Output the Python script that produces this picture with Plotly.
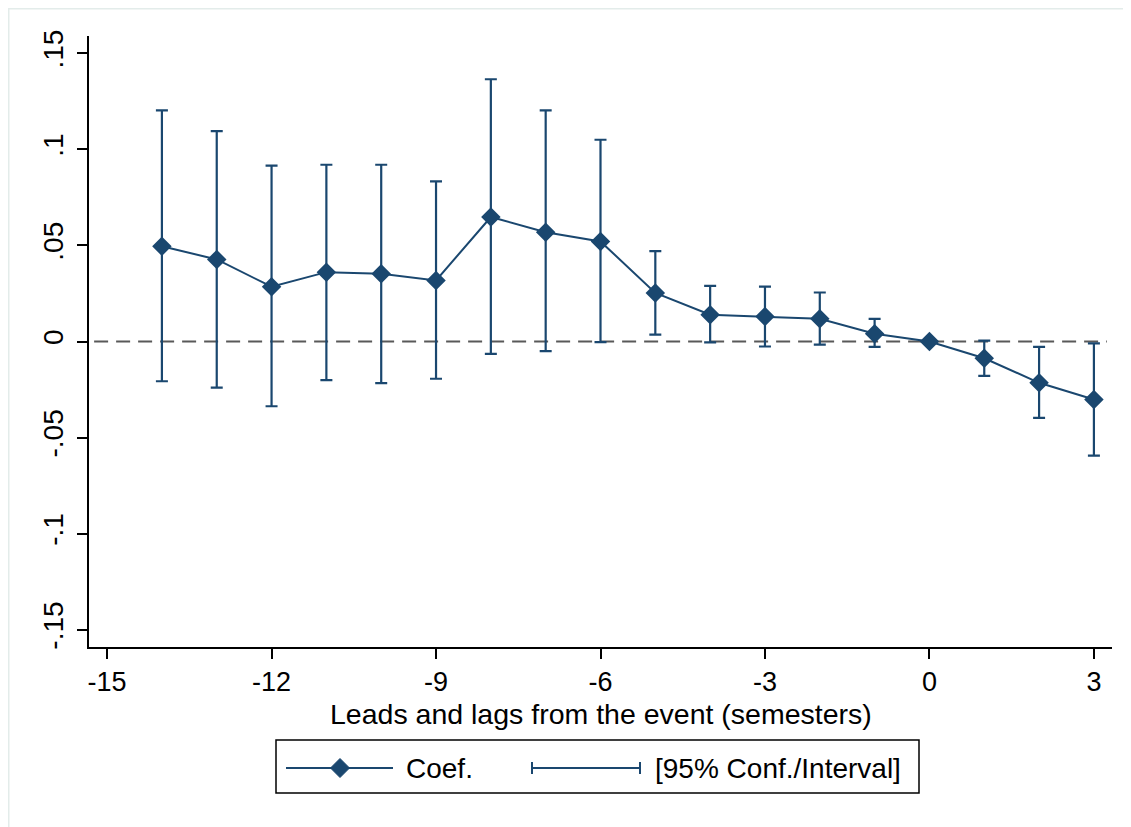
import plotly.graph_objects as go

# ---- data ----
periods = [-14, -13, -12, -11, -10, -9, -8, -7, -6, -5, -4, -3, -2, -1, 0, 1, 2, 3]
coef = [0.0496, 0.0427, 0.0285, 0.0361, 0.0352, 0.0318, 0.0648, 0.0569, 0.0521,
        0.0253, 0.0139, 0.0130, 0.0118, 0.0040, 0.0, -0.0087, -0.0215, -0.0302]
ci_upper = [0.1203, 0.1095, 0.0915, 0.0920, 0.0920, 0.0833, 0.1365, 0.1203, 0.1050,
            0.0470, 0.0290, 0.0286, 0.0255, 0.0118, None, 0.0005, -0.0028, -0.0010]
ci_lower = [-0.0207, -0.0240, -0.0337, -0.0201, -0.0217, -0.0194, -0.0064, -0.0050, -0.0003,
            0.0036, -0.0005, -0.0026, -0.0016, -0.0028, None, -0.0179, -0.0397, -0.0594]

x_tickvals = [-15, -12, -9, -6, -3, 0, 3]
x_ticktext = ["-15", "-12", "-9", "-6", "-3", "0", "3"]
y_tickvals = [0.15, 0.1, 0.05, 0, -0.05, -0.1, -0.15]
y_ticktext = [".15", ".1", ".05", "0", "-.05", "-.1", "-.15"]

x_title = "Leads and lags from the event (semesters)"
legend_labels = ["Coef.", "[95% Conf./Interval]"]

NAVY = "#1a476f"
FONT = "Liberation Sans, Arial, sans-serif"

err_plus = [None if u is None else u - c for u, c in zip(ci_upper, coef)]
err_minus = [None if l is None else c - l for l, c in zip(ci_lower, coef)]

# page body has an 8px margin -> figure is 8px smaller; screen coords used below
OFF = 8
W, H = 1131 - OFF, 827 - OFF
PL, PR, PT, PB = 89, 1112, 36, 647          # plot area in screen pixels
PW, PH = PR - PL, PB - PT
L, T = PL - OFF, PT - OFF
R, B = W - (PR - OFF), H - (PB - OFF)


def px(xp):
    return (xp - PL) / PW


def py(yp):
    return (PB - yp) / PH


fig = go.Figure()
fig.add_trace(go.Scatter(
    x=periods, y=coef, mode="lines+markers",
    line=dict(color=NAVY, width=2),
    marker=dict(symbol="diamond", size=15, color=NAVY),
    error_y=dict(type="data", symmetric=False, array=err_plus, arrayminus=err_minus,
                 color=NAVY, thickness=2.2, width=6),
    showlegend=False,
))

shapes = []
# zero reference line
shapes.append(dict(type="line", xref="paper", yref="y", x0=0.005, x1=0.995, y0=0, y1=0,
                   line=dict(color="#595959", width=2, dash="14px,8px"), layer="below"))

# custom legend
ly = 768
shapes.append(dict(type="rect", xref="paper", yref="paper",
                   x0=px(276), x1=px(919), y0=py(740), y1=py(793),
                   line=dict(color="black", width=1.5)))
shapes.append(dict(type="line", xref="paper", yref="paper",
                   x0=px(286), x1=px(393), y0=py(ly), y1=py(ly),
                   line=dict(color=NAVY, width=2)))
cx, cy, r = 340, ly, 9.5
diamond = "M {},{} L {},{} L {},{} L {},{} Z".format(
    px(cx - r), py(cy), px(cx), py(cy - r), px(cx + r), py(cy), px(cx), py(cy + r))
shapes.append(dict(type="path", xref="paper", yref="paper", path=diamond,
                   fillcolor=NAVY, line=dict(color=NAVY, width=1)))
shapes.append(dict(type="line", xref="paper", yref="paper",
                   x0=px(532), x1=px(640), y0=py(ly), y1=py(ly),
                   line=dict(color=NAVY, width=2)))
for xc in (532, 640):
    shapes.append(dict(type="line", xref="paper", yref="paper",
                       x0=px(xc), x1=px(xc), y0=py(ly - 6), y1=py(ly + 6),
                       line=dict(color=NAVY, width=2)))

# faint outer frame (top and left edges)
shapes.append(dict(type="line", xref="paper", yref="paper",
                   x0=px(8), x1=px(1131), y0=py(8.5), y1=py(8.5),
                   line=dict(color="#e3ecea", width=2)))
shapes.append(dict(type="line", xref="paper", yref="paper",
                   x0=px(8.5), x1=px(8.5), y0=py(8), y1=py(827),
                   line=dict(color="#e3ecea", width=2)))

annotations = [
    dict(text=legend_labels[0], xref="paper", yref="paper", x=px(404), y=py(ly),
         xanchor="left", yanchor="middle", showarrow=False,
         font=dict(family=FONT, size=28, color="black")),
    dict(text=legend_labels[1], xref="paper", yref="paper", x=px(653), y=py(ly),
         xanchor="left", yanchor="middle", showarrow=False,
         font=dict(family=FONT, size=28, color="black")),
    dict(text=x_title, xref="paper", yref="paper", x=0.5, y=py(714),
         xanchor="center", yanchor="middle", showarrow=False,
         font=dict(family=FONT, size=28.5, color="black")),
]

fig.update_layout(
    width=W, height=H,
    margin=dict(l=L, r=R, t=T, b=B, pad=0),
    paper_bgcolor="white", plot_bgcolor="white",
    font=dict(family=FONT, color="black"),
    shapes=shapes, annotations=annotations,
    showlegend=False,
    xaxis=dict(range=[-15.33, 3.33], tickvals=x_tickvals, ticktext=x_ticktext,
               showgrid=False, zeroline=False, showline=True, linecolor="black", linewidth=2,
               ticks="outside", ticklen=10, tickwidth=2, tickcolor="black",
               tickfont=dict(family=FONT, size=27, color="black")),
    yaxis=dict(range=[-0.159, 0.159], tickvals=y_tickvals, ticktext=y_ticktext,
               showgrid=False, zeroline=False, showline=True, linecolor="black", linewidth=2,
               ticks="outside", ticklen=10, tickwidth=2, tickcolor="black", tickangle=-90,
               ticklabelstandoff=3,
               tickfont=dict(family=FONT, size=28, color="black")),
)

fig.write_html("out.html")
